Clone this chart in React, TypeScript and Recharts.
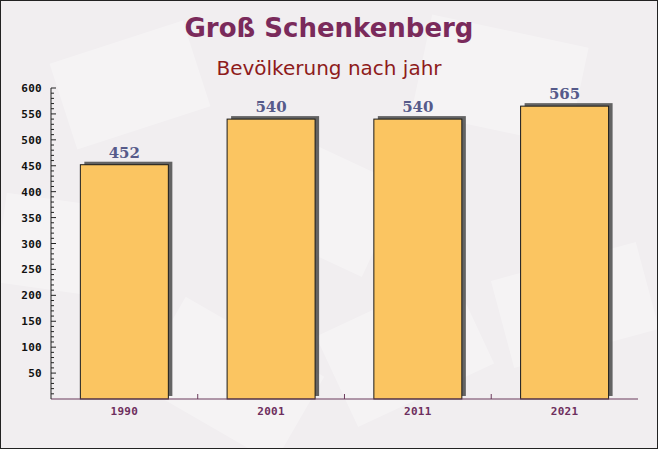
import React from 'react';
import { BarChart, Bar, XAxis, YAxis, LabelList } from 'recharts';

const years = ['1990', '2001', '2011', '2021'];
const population = [452, 540, 540, 565];
const yTicks = [50, 100, 150, 200, 250, 300, 350, 400, 450, 500, 550, 600];
const minorStep = 10;
const yMax = 600;

const data = years.map((y, i) => ({ year: y, value: population[i] }));
const allTicks = Array.from({ length: yMax / minorStep }, (_, i) => (i + 1) * minorStep);

const W = 658;
const H = 449;

const BarShape = (props: any) => {
  const { x, y, width, height } = props;
  if (height <= 0) return null;
  return (
    <g>
      <rect x={x + 4} y={y - 3} width={width} height={height} fill="#4a4a4a" fillOpacity={0.85} />
      <rect x={x} y={y} width={width} height={height} fill="#fbc561" stroke="#1a1a1a" strokeWidth={1} />
    </g>
  );
};

const YTick = (props: any) => {
  const { x, y, payload } = props;
  const v = payload.value;
  const major = yTicks.includes(v);
  return (
    <g>
      <line x1={x} x2={x + (major ? 5 : 3)} y1={y} y2={y} stroke="#222" strokeWidth={1} />
      {major && (
        <text x={x - 9} y={y} dy={4} textAnchor="end" fontFamily="'DejaVu Sans Mono', monospace" fontWeight="bold" fontSize={11} letterSpacing={0.3} fill="#111">
          {v}
        </text>
      )}
    </g>
  );
};

const XTick = (props: any) => {
  const { x, y, payload, index } = props;
  const half = 73.4;
  return (
    <g>
      {index > 0 && <line x1={x - half} x2={x - half} y1={y} y2={y - 5} stroke="#6b3a5c" strokeWidth={1} />}
      <text x={x} y={y} dy={16} textAnchor="middle" fontFamily="'DejaVu Sans Mono', monospace" fontWeight="bold" fontSize={11} letterSpacing={0.3} fill="#6e2f5e">
        {payload.value}
      </text>
    </g>
  );
};

const decor = [
  { l: 60, t: 40, w: 140, h: 90, r: -18 },
  { l: 240, t: 150, w: 150, h: 100, r: 25 },
  { l: 420, t: 30, w: 160, h: 100, r: 12 },
  { l: 500, t: 260, w: 150, h: 90, r: -15 },
  { l: 150, t: 330, w: 160, h: 100, r: 30 },
  { l: 330, t: 300, w: 150, h: 100, r: -25 },
  { l: 0, t: 200, w: 110, h: 90, r: 8 },
];

export default function App() {
  return (
    <div style={{ position: 'absolute', left: 0, top: 0, width: W, height: H, background: '#f1eef0', overflow: 'hidden' }}>
      {decor.map((d, i) => (
        <div
          key={i}
          style={{
            position: 'absolute',
            left: d.l,
            top: d.t,
            width: d.w,
            height: d.h,
            background: 'rgba(255,255,255,0.3)',
            transform: `rotate(${d.r}deg)`,
          }}
        />
      ))}
      <div style={{ position: 'absolute', left: 0, top: 13, width: W, textAlign: 'center', fontFamily: "'DejaVu Sans', sans-serif", fontWeight: 'bold', fontSize: 26, color: '#7a2a5b' }}>
        Groß Schenkenberg
      </div>
      <div style={{ position: 'absolute', left: 0, top: 56, width: W, textAlign: 'center', fontFamily: "'DejaVu Sans', sans-serif", fontSize: 20, color: '#8e1b1b' }}>
        Bevölkerung nach jahr
      </div>
      <div style={{ position: 'absolute', left: 0, top: 0 }}>
        <BarChart width={W} height={H} data={data} margin={{ top: 88, right: 20, bottom: 0, left: 0 }} barCategoryGap="20%">
          <XAxis
            dataKey="year"
            height={50}
            axisLine={{ stroke: '#6b3a5c', strokeWidth: 1 }}
            tickLine={false}
            tickSize={0}
            tickMargin={0}
            tick={<XTick />}
            interval={0}
          />
          <YAxis
            width={51}
            domain={[0, yMax]}
            ticks={allTicks}
            interval={0}
            axisLine={{ stroke: '#222', strokeWidth: 1 }}
            tickLine={false}
            tickSize={0}
            tickMargin={0}
            tick={<YTick />}
          />
          <Bar dataKey="value" shape={<BarShape />} isAnimationActive={false}>
            <LabelList
              dataKey="value"
              position="top"
              offset={7}
              fill="#565a8a"
              fontSize={15}
              fontWeight="bold"
              fontFamily="'DejaVu Serif', serif"
            />
          </Bar>
        </BarChart>
      </div>
      <div style={{ position: 'absolute', left: 0, top: 0, width: W, height: H, boxSizing: 'border-box', border: '1px solid #222', pointerEvents: 'none' }} />
    </div>
  );
}
